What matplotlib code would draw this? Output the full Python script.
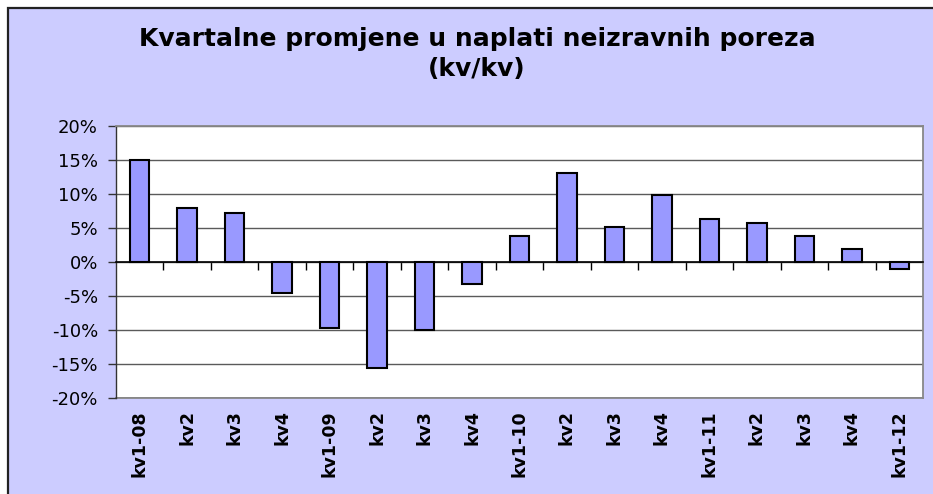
import matplotlib
matplotlib.use("Agg")
import matplotlib.pyplot as plt
from matplotlib.patches import Rectangle
from matplotlib.ticker import FixedLocator, FuncFormatter

categories = ["kv1-08", "kv2", "kv3", "kv4", "kv1-09", "kv2", "kv3", "kv4",
              "kv1-10", "kv2", "kv3", "kv4", "kv1-11", "kv2", "kv3", "kv4", "kv1-12"]
values = [15.0, 8.0, 7.25, -4.6, -9.7, -15.7, -10.1, -3.2,
          3.9, 13.1, 5.1, 9.9, 6.3, 5.8, 3.9, 1.95, -1.0]
yticks = [-20, -15, -10, -5, 0, 5, 10, 15, 20]
title = "Kvartalne promjene u naplati neizravnih poreza\n(kv/kv)"

W, H = 933, 494
fig = plt.figure(figsize=(W / 100, H / 100), dpi=100, facecolor="white")

# outer chart area with border
bg = Rectangle((8 / W, -0.1), 1.2, 1 - 8 / H + 0.1, transform=fig.transFigure,
               facecolor="#CCCCFF", edgecolor="#222222", linewidth=1.6, zorder=-10)
fig.add_artist(bg)

left, right, top, bottom = 116, 923, 126.5, 397.5
ax = fig.add_axes([left / W, 1 - bottom / H, (right - left) / W, (bottom - top) / H])
ax.set_facecolor("white")

x = list(range(len(categories)))
ax.bar(x, values, width=0.41, color="#9999FF", edgecolor="black", linewidth=1.5, zorder=3)

ax.set_xlim(-0.5, len(categories) - 0.5)
ax.set_ylim(-20, 20)
ax.yaxis.set_major_locator(FixedLocator(yticks))
ax.yaxis.set_major_formatter(FuncFormatter(lambda v, p: f"{int(v)}%"))
ax.grid(axis="y", color="#5a5a5a", linewidth=1.0, zorder=1)
ax.set_axisbelow(True)

for s in ["top", "right"]:
    ax.spines[s].set_color("#888888")
    ax.spines[s].set_linewidth(1.3)
ax.spines["left"].set_color("#333333")
ax.spines["left"].set_linewidth(1.0)
ax.spines["bottom"].set_position(("data", 0))
ax.spines["bottom"].set_color("black")
ax.spines["bottom"].set_linewidth(1.2)
ax.spines["bottom"].set_zorder(4)

ax.tick_params(axis="y", direction="out", length=6, width=1, color="#333333",
               labelsize=13, pad=7)
for lab in ax.get_yticklabels():
    lab.set_fontfamily("DejaVu Sans")

# boundary tick marks on the zero line
ax.set_xticks([i + 0.5 for i in range(len(categories) - 1)])
ax.tick_params(axis="x", direction="out", length=6, width=1, color="black",
               labelbottom=False)

# category labels at bottom of plot area
sec = ax.secondary_xaxis(0.0)
sec.set_xticks(x)
sec.set_xticklabels(categories, rotation=90, fontsize=12.5, fontweight="bold",
                    fontfamily="DejaVu Sans", va="top")
sec.tick_params(axis="x", length=0, pad=9)
sec.spines["bottom"].set_color("#888888")
sec.spines["bottom"].set_linewidth(1.3)

fig.text(477 / W, 1 - 54 / H, title, ha="center", va="center", fontsize=18,
         fontweight="bold", fontfamily="DejaVu Sans", linespacing=1.32)

fig.savefig("out.png", dpi=100, facecolor=fig.get_facecolor())
